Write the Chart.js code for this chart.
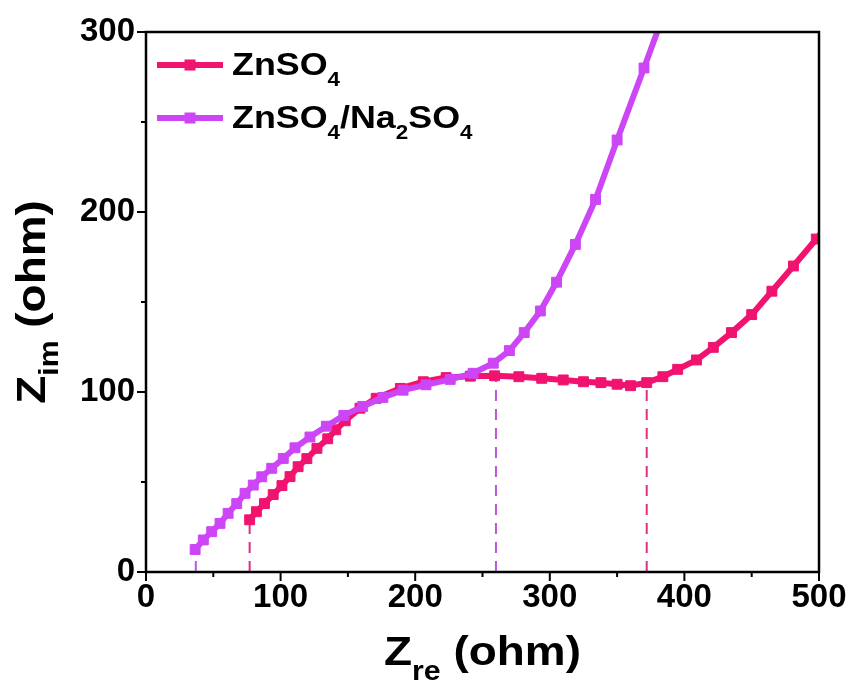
<!DOCTYPE html>
<html>
<head>
<meta charset="utf-8">
<script src="https://cdn.jsdelivr.net/npm/chart.js@4"></script>
<style>
  body { margin: 0; background: #fff; }
  canvas { display: block; }
</style>
</head>
<body>
<canvas id="eis" width="853" height="684"></canvas>
<script>
// Nyquist plot data (ohm)
const znX = [77, 82, 88, 94.5, 101, 107, 113, 119.5, 127, 135, 141, 148, 159, 171, 189, 206, 223, 241, 259, 277, 294, 310, 325, 338, 350, 360, 372, 384, 395, 409, 421.5, 435, 450, 465, 481, 498, 517];
const znY = [29, 33.5, 38, 43, 48, 53, 58.5, 63, 68.7, 74, 79, 84, 91, 96.5, 102, 105.7, 108, 108.8, 109, 108.5, 107.6, 106.7, 105.7, 105.2, 104.3, 103.5, 105.2, 108.5, 112.6, 117.8, 124.8, 133, 143, 156, 170, 185, 203];

const naX = [36.5, 42.6, 48.8, 55, 61, 67.4, 73.6, 79.7, 86, 93.4, 102, 110.7, 121.8, 134, 147, 161, 176, 191, 208, 226, 243, 258, 270, 281, 293, 305, 319, 334, 350, 370, 393];
const naY = [12.5, 17.8, 22.4, 27, 32.6, 38, 43.7, 48.3, 52.9, 57.6, 63.1, 69, 75, 81, 87, 92, 97, 101, 104, 107, 110.4, 116, 123, 133, 145, 161, 182, 207, 240, 280, 327];

// dashed guide lines
const guideX = [37, 77, 260, 372];
const guideTop = [11, 29, 108, 104];
const guideColor = ['#BE55DC', '#D8308A', '#BE55DC', '#E03080'];

const xTicks = [0, 100, 200, 300, 400, 500];
const yTicks = [0, 100, 200, 300];

const pink = '#F0136F';
const violet = '#CD46F5';
const fontFam = "'Liberation Sans', Arial, sans-serif";

function pts(xs, ys) {
  return xs.map((x, i) => ({ x: x, y: ys[i] }));
}

const datasets = [
  {
    label: 'ZnSO4/Na2SO4', data: pts(naX, naY), order: 0,
    showLine: true, borderColor: violet, backgroundColor: violet, borderWidth: 6,
    pointStyle: 'rect', pointRadius: 7, pointBorderWidth: 1, pointBorderColor: violet
  },
  {
    label: 'ZnSO4', data: pts(znX, znY), order: 1,
    showLine: true, borderColor: pink, backgroundColor: pink, borderWidth: 6,
    pointStyle: 'rect', pointRadius: 7, pointBorderWidth: 1, pointBorderColor: pink
  }
];
guideX.forEach((gx, i) => {
  datasets.push({
    data: [{ x: gx, y: 0 }, { x: gx, y: guideTop[i] }], order: 2,
    showLine: true, borderColor: guideColor[i], borderWidth: 2, borderDash: [11, 8],
    pointRadius: 0
  });
});

// text with subscripts, stretched a bit wider like the original
function richWidth(ctx, parts, size, subSize) {
  let w = 0;
  parts.forEach(p => {
    ctx.font = 'bold ' + (p[1] ? subSize : size) + 'px ' + fontFam;
    w += ctx.measureText(p[0]).width;
  });
  return w;
}
function drawRich(ctx, parts, x, y, size, subSize, subDrop, stretch, centered) {
  const w = richWidth(ctx, parts, size, subSize);
  ctx.save();
  ctx.translate(x, y);
  ctx.scale(stretch, 1);
  let cx = centered ? -w / 2 : 0;
  ctx.fillStyle = '#000';
  ctx.textBaseline = 'alphabetic';
  ctx.textAlign = 'left';
  parts.forEach(p => {
    ctx.font = 'bold ' + (p[1] ? subSize : size) + 'px ' + fontFam;
    ctx.fillText(p[0], cx, p[1] ? subDrop : 0);
    cx += ctx.measureText(p[0]).width;
  });
  ctx.restore();
}

const decor = {
  id: 'decor',
  afterDraw(chart) {
    const ctx = chart.ctx;
    const a = chart.chartArea;
    const xs = chart.scales.x, ys = chart.scales.y;
    ctx.save();
    ctx.strokeStyle = '#000';
    ctx.lineWidth = 2.5;
    ctx.strokeRect(a.left, a.top, a.right - a.left, a.bottom - a.top);
    ctx.lineWidth = 2;
    for (let v = 0; v <= 500; v += 50) {
      const px = xs.getPixelForValue(v);
      ctx.beginPath();
      ctx.moveTo(px, a.bottom);
      ctx.lineTo(px, a.bottom + (v % 100 ? 5 : 9));
      ctx.stroke();
    }
    for (let v = 0; v <= 300; v += 50) {
      const py = ys.getPixelForValue(v);
      ctx.beginPath();
      ctx.moveTo(a.left, py);
      ctx.lineTo(a.left - (v % 100 ? 5 : 9), py);
      ctx.stroke();
    }
    ctx.restore();

    // axis titles
    drawRich(ctx, [['Z', 0], ['re', 1], [' (ohm)', 0]], (a.left + a.right) / 2, 665, 41, 27, 15, 1.12, true);
    ctx.save();
    ctx.translate(45, (a.top + a.bottom) / 2);
    ctx.rotate(-Math.PI / 2);
    drawRich(ctx, [['Z', 0], ['im', 1], [' (ohm)', 0]], 0, 0, 41, 27, 13, 1.12, true);
    ctx.restore();

    // legend
    const rows = [
      { color: pink, y: 65, parts: [['ZnSO', 0], ['4', 1]] },
      { color: violet, y: 118, parts: [['ZnSO', 0], ['4', 1], ['/Na', 0], ['2', 1], ['SO', 0], ['4', 1]] }
    ];
    rows.forEach(r => {
      ctx.save();
      ctx.strokeStyle = r.color;
      ctx.fillStyle = r.color;
      ctx.lineWidth = 6;
      ctx.beginPath();
      ctx.moveTo(157, r.y);
      ctx.lineTo(223, r.y);
      ctx.stroke();
      ctx.fillRect(184.5, r.y - 5.5, 11, 11);
      ctx.restore();
      drawRich(ctx, r.parts, 232, r.y + 10, 32, 20, 11, 1.12, false);
    });
  }
};

new Chart(document.getElementById('eis'), {
  type: 'scatter',
  data: { datasets: datasets },
  options: {
    responsive: false,
    animation: false,
    layout: { padding: { top: 32, right: 34, left: 0, bottom: 0 } },
    plugins: { legend: { display: false }, tooltip: { enabled: false } },
    elements: { line: { tension: 0 } },
    scales: {
      x: {
        type: 'linear', min: 0, max: 500,
        afterBuildTicks: s => { s.ticks = xTicks.map(v => ({ value: v })); },
        ticks: { color: '#000', padding: 6, maxRotation: 0, font: { family: fontFam, size: 33, weight: 'bold' } },
        grid: { display: false, drawTicks: false },
        border: { display: false },
        afterFit: s => { s.height = 112; }
      },
      y: {
        type: 'linear', min: 0, max: 300,
        afterBuildTicks: s => { s.ticks = yTicks.map(v => ({ value: v })); },
        ticks: { color: '#000', padding: 11, font: { family: fontFam, size: 33, weight: 'bold' } },
        grid: { display: false, drawTicks: false },
        border: { display: false },
        afterFit: s => { s.width = 146; }
      }
    }
  },
  plugins: [decor]
});
</script>
</body>
</html>
